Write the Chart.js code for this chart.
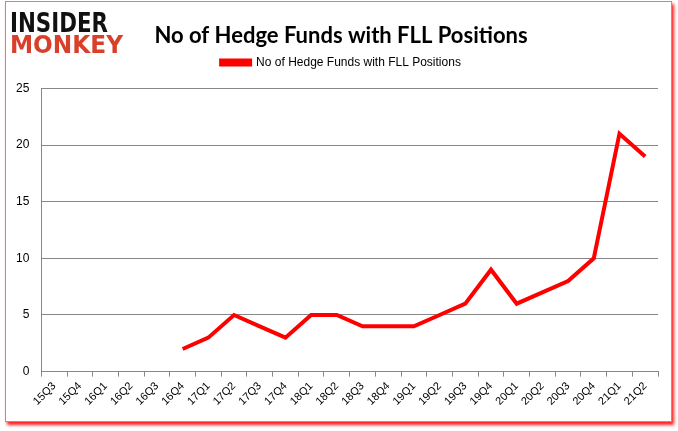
<!DOCTYPE html>
<html>
<head>
<meta charset="utf-8">
<script src="https://cdn.jsdelivr.net/npm/chart.js@4"></script>
<style>
  body { margin: 0; background: #fff; }
  #frame { position: absolute; left: 5px; top: 1px; width: 665px; height: 419px;
           border: 1px solid #9a9a9a; box-shadow: 2px 3px 3px #ff2020; background: #fff; }
  #wrap { position: absolute; left: 0; top: 0; width: 678px; height: 431px; }
</style>
</head>
<body>
<div id="frame"></div>
<div id="wrap"><canvas id="chart" width="678" height="431"></canvas></div>
<script>
// quarters on the x axis
const quarters = ['15Q3','15Q4','16Q1','16Q2','16Q3','16Q4','17Q1','17Q2','17Q3','17Q4',
  '18Q1','18Q2','18Q3','18Q4','19Q1','19Q2','19Q3','19Q4','20Q1','20Q2','20Q3','20Q4','21Q1','21Q2'];
// number of hedge funds holding FLL (no data before 16Q4)
const funds = [null,null,null,null,null,2,3,5,4,3,5,5,4,4,4,5,6,9,6,7,8,10,21,19];
const yTicks = [0, 5, 10, 15, 20, 25];

const seriesName = 'No of Hedge Funds with FLL Positions';

// logo drawn on the canvas, each word squeezed into its box
const logoPlugin = {
  id: 'logo',
  afterDraw(chart) {
    const c = chart.ctx;
    function word(txt, color, x, y, w, size) {
      c.save();
      c.font = 'bold ' + size + 'px "DejaVu Sans"';
      const m = c.measureText(txt).width;
      c.translate(x, y);
      c.scale(w / m, 1);
      c.fillStyle = color;
      c.textBaseline = 'alphabetic';
      c.fillText(txt, 0, 0);
      c.restore();
    }
    word('INSIDER', '#111', 10, 32, 98, 27);
    word('MONKEY', '#d8402a', 10, 53, 113, 25);
  }
};

// extra gap between legend and plot area, and title/legend nudged right
const legendGap = {
  id: 'legendGap',
  beforeInit(chart) {
    const fit = chart.legend.fit;
    chart.legend.fit = function () {
      fit.bind(chart.legend)();
      this.height += 10;
    };
  },
  afterLayout(chart) {
    [chart.titleBlock, chart.legend].forEach(b => { b.left += 20; });
  }
};

new Chart(document.getElementById('chart'), {
  type: 'line',
  data: {
    labels: quarters,
    datasets: [{
      label: seriesName,
      data: funds,
      borderColor: '#ff0000',
      backgroundColor: '#ff0000',
      borderWidth: 4,
      pointRadius: 0,
      tension: 0,
      spanGaps: false
    }]
  },
  options: {
    responsive: false,
    animation: false,
    layout: { padding: { left: 4, right: 20, top: 4, bottom: 20 } },
    plugins: {
      title: {
        display: true,
        text: seriesName,
        color: '#000',
        font: { family: 'Lato', size: 22, weight: 'bold' },
        padding: { top: 19, bottom: 0 }
      },
      legend: {
        display: true,
        labels: {
          color: '#000',
          font: { family: 'Liberation Sans', size: 12 },
          boxWidth: 29,
          boxHeight: 4,
          padding: 7
        }
      },
      tooltip: { enabled: false }
    },
    scales: {
      x: {
        offset: true,
        grid: { display: true, drawOnChartArea: false, offset: true, color: '#888', tickLength: 5 },
        border: { color: '#888' },
        ticks: { color: '#000', font: { family: 'Liberation Sans', size: 11 },
                 maxRotation: 45, minRotation: 45, autoSkip: false }
      },
      y: {
        min: 0,
        max: 25,
        afterBuildTicks(axis) { axis.ticks = yTicks.map(v => ({ value: v })); },
        grid: { color: '#888', drawTicks: false },
        border: { color: '#888', display: true },
        ticks: { color: '#000', font: { family: 'Liberation Sans', size: 12 }, padding: 12 }
      }
    }
  },
  plugins: [logoPlugin, legendGap]
});
</script>
</body>
</html>
